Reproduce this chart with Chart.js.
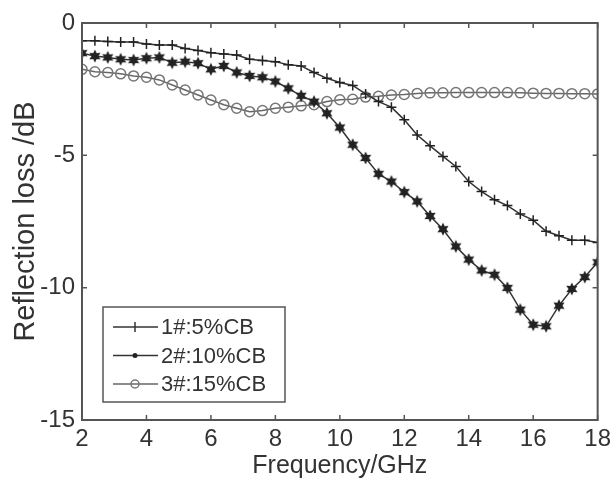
<!DOCTYPE html>
<html>
<head>
<meta charset="utf-8">
<script src="https://cdn.jsdelivr.net/npm/chart.js@4.4.1/dist/chart.umd.min.js"></script>
<style>
html,body{margin:0;padding:0;background:#fff;}
#wrap{width:616px;height:488px;}
</style>
</head>
<body>
<div id="wrap"><canvas id="c" width="616" height="488"></canvas></div>
<script>
const frequency = [2,2.4,2.8,3.2,3.6,4,4.4,4.8,5.2,5.6,6,6.4,6.8,7.2,7.6,8,8.4,8.8,9.2,9.6,10,10.4,10.8,11.2,11.6,12,12.4,12.8,13.2,13.6,14,14.4,14.8,15.2,15.6,16,16.4,16.8,17.2,17.6,18];
const cb5 = [-0.67,-0.67,-0.70,-0.72,-0.72,-0.79,-0.83,-0.83,-0.96,-1.04,-1.12,-1.17,-1.21,-1.37,-1.42,-1.46,-1.58,-1.62,-1.87,-2.09,-2.25,-2.36,-2.68,-2.97,-3.18,-3.66,-4.23,-4.64,-5.04,-5.42,-5.99,-6.37,-6.68,-6.90,-7.22,-7.45,-7.87,-8.04,-8.21,-8.21,-8.29];
const cb10 = [-1.14,-1.25,-1.30,-1.37,-1.40,-1.33,-1.30,-1.50,-1.46,-1.52,-1.75,-1.62,-1.87,-2.00,-2.05,-2.21,-2.47,-2.75,-2.97,-3.41,-3.95,-4.60,-5.10,-5.70,-5.99,-6.39,-6.74,-7.29,-7.79,-8.44,-8.94,-9.35,-9.51,-10.01,-10.83,-11.40,-11.46,-10.68,-10.05,-9.60,-9.04];
const cb15 = [-1.75,-1.84,-1.87,-1.92,-2.00,-2.05,-2.15,-2.34,-2.53,-2.72,-2.91,-3.09,-3.22,-3.35,-3.31,-3.22,-3.18,-3.13,-3.09,-2.97,-2.90,-2.88,-2.80,-2.77,-2.72,-2.70,-2.66,-2.64,-2.64,-2.63,-2.63,-2.63,-2.63,-2.63,-2.64,-2.65,-2.66,-2.66,-2.67,-2.67,-2.68];
const seriesLabels = ['1#:5%CB','2#:10%CB','3#:15%CB'];
const xTicks = [2,4,6,8,10,12,14,16,18];
const yTicks = [0,-5,-10,-15];

const FONT = '"Liberation Sans", Arial, sans-serif';

function starImage(){
  const cv = document.createElement('canvas');
  cv.width = 14; cv.height = 14;
  const g = cv.getContext('2d');
  g.fillStyle = '#222';
  g.beginPath();
  for (let i=0;i<12;i++){
    const a = -Math.PI/2 + i*Math.PI/6;
    const r = (i%2===0)?6.5:3.4;
    const px = 7 + r*Math.cos(a), py = 7 + r*Math.sin(a);
    if(i===0) g.moveTo(px,py); else g.lineTo(px,py);
  }
  g.closePath(); g.fill();
  return cv;
}
const star = starImage();

const pts = arr => frequency.map((f,i)=>({x:f,y:arr[i]}));

const frame = {
  id:'frame',
  afterDatasetsDraw(chart){
    const {ctx, chartArea:a, scales:{x,y}} = chart;
    ctx.save();
    ctx.strokeStyle = '#555'; ctx.lineWidth = 2;
    ctx.strokeRect(a.left, a.top, a.right-a.left, a.bottom-a.top);
    ctx.lineWidth = 1.5;
    ctx.beginPath();
    xTicks.forEach(v=>{
      const px = x.getPixelForValue(v);
      ctx.moveTo(px,a.bottom); ctx.lineTo(px,a.bottom-5);
      ctx.moveTo(px,a.top); ctx.lineTo(px,a.top+5);
    });
    yTicks.forEach(v=>{
      const py = y.getPixelForValue(v);
      ctx.moveTo(a.left,py); ctx.lineTo(a.left+5,py);
      ctx.moveTo(a.right,py); ctx.lineTo(a.right-5,py);
    });
    ctx.stroke();
    // legend
    const lx = a.left+21, ly = a.bottom-113, lw = 182, lh = 95;
    ctx.fillStyle = '#fff';
    ctx.fillRect(lx,ly,lw,lh);
    ctx.strokeStyle = '#555'; ctx.lineWidth = 1.5;
    ctx.strokeRect(lx,ly,lw,lh);
    ctx.font = '22px ' + FONT;
    ctx.textBaseline = 'middle';
    chart.data.datasets.forEach((ds,i)=>{
      const ry = ly + 20 + i*28.5;
      ctx.strokeStyle = ds.borderColor; ctx.lineWidth = 1.5;
      ctx.beginPath(); ctx.moveTo(lx+10,ry); ctx.lineTo(lx+55,ry); ctx.stroke();
      const mx = lx+32;
      if (i===0){
        ctx.beginPath(); ctx.moveTo(mx,ry-5); ctx.lineTo(mx,ry+5); ctx.stroke();
      } else if (i===1){
        ctx.fillStyle='#222'; ctx.beginPath(); ctx.arc(mx,ry,2.5,0,Math.PI*2); ctx.fill();
      } else {
        ctx.strokeStyle = ds.pointBorderColor; ctx.beginPath(); ctx.arc(mx,ry,4,0,Math.PI*2); ctx.stroke();
      }
      ctx.fillStyle = '#333';
      ctx.fillText(ds.label, lx+58, ry+1);
    });
    ctx.restore();
  }
};

new Chart(document.getElementById('c'), {
  type:'line',
  data:{
    datasets:[
      {label:seriesLabels[0], data:pts(cb5), borderColor:'#333', borderWidth:1.5, pointStyle:'cross', pointRadius:5, pointBorderColor:'#222', pointBorderWidth:1.5, tension:0},
      {label:seriesLabels[1], data:pts(cb10), borderColor:'#333', borderWidth:1.5, pointStyle:star, pointRadius:6, tension:0},
      {label:seriesLabels[2], data:pts(cb15), borderColor:'#666', borderWidth:1.5, pointStyle:'circle', pointRadius:5, pointBorderColor:'#777', pointBackgroundColor:'rgba(255,255,255,0)', pointBorderWidth:1.5, tension:0}
    ]
  },
  options:{
    responsive:false, animation:false,
    layout:{padding:{top:23,right:17,left:0,bottom:0}},
    plugins:{legend:{display:false}, tooltip:{enabled:false}},
    scales:{
      x:{type:'linear', min:2, max:18,
        afterBuildTicks(s){ s.ticks = xTicks.map(v=>({value:v})); },
        afterFit(s){ s.height = 68; },
        grid:{display:false, drawTicks:false}, border:{display:false},
        ticks:{font:{family:FONT, size:24}, color:'#333', padding:5, maxRotation:0},
        title:{display:true, text:'Frequency/GHz', font:{family:FONT, size:25}, color:'#333', padding:{top:0,bottom:7}}
      },
      y:{min:-15, max:0,
        afterBuildTicks(s){ s.ticks = yTicks.map(v=>({value:v})); },
        afterFit(s){ s.width = 82; },
        grid:{display:false, drawTicks:false}, border:{display:false},
        ticks:{font:{family:FONT, size:24}, color:'#333', padding:7},
        title:{display:true, text:'Reflection loss /dB', font:{family:FONT, size:29}, color:'#333', padding:{top:9,bottom:0}}
      }
    }
  },
  plugins:[frame]
});
</script>
</body>
</html>
